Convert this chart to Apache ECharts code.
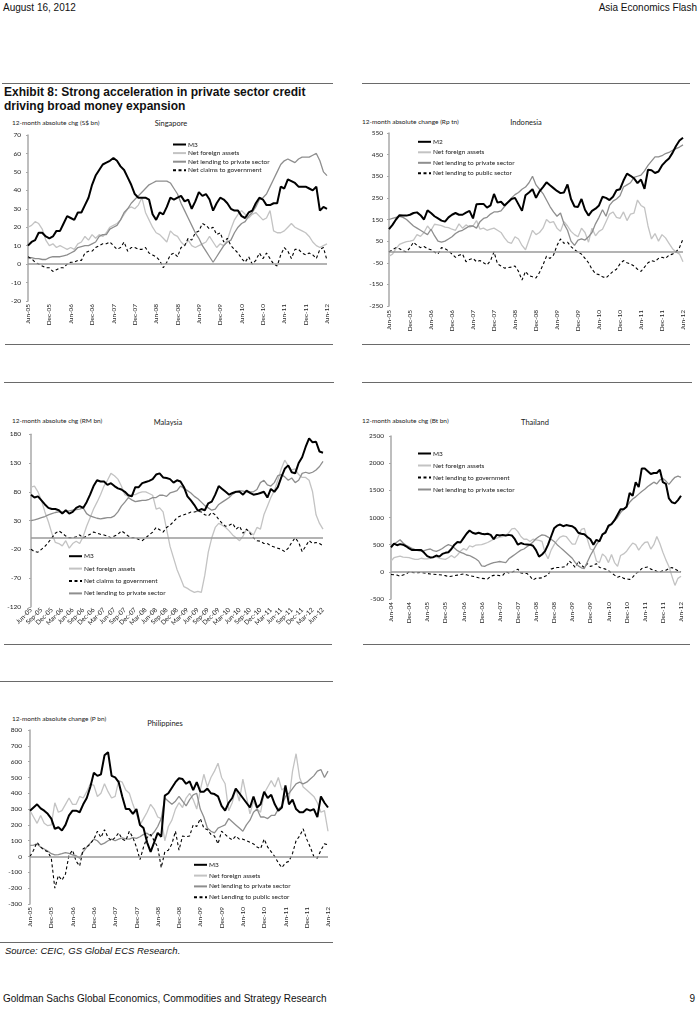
<!DOCTYPE html>
<html><head><meta charset="utf-8">
<script src="https://cdn.jsdelivr.net/npm/echarts@6.0.0/dist/echarts.min.js"></script>
<style>
html,body{margin:0;padding:0;background:#fff;}
#page{position:relative;width:700px;height:1009px;overflow:hidden;font-family:"Liberation Sans",Arial,sans-serif;color:#111;}
.t{position:absolute;white-space:nowrap;}
.rule{position:absolute;height:0;border-top:1.6px solid #6a6a6a;}
.lab{position:absolute;white-space:nowrap;font-family:Lato,"Open Sans",sans-serif;font-size:6.5px;line-height:8px;color:#222;}
.ptitle{position:absolute;white-space:nowrap;font-family:Lato,"Open Sans",sans-serif;font-size:7.5px;line-height:9px;color:#222;transform:translateX(-50%);}
#chart{position:absolute;left:0;top:0;width:700px;height:1009px;}
</style></head>
<body><div id="page">
<div class="t" style="left:3px;top:2px;font-size:10px;line-height:12px;">August 16, 2012</div>
<div class="t" style="right:3px;top:2px;font-size:10px;line-height:12px;">Asia Economics Flash</div>
<div class="t" style="left:4px;top:86px;font-size:12px;line-height:13.5px;font-weight:bold;">Exhibit 8: Strong acceleration in private sector credit<br>driving broad money expansion</div>

<div class="rule" style="left:2px;width:331px;top:83px;"></div>
<div class="rule" style="left:362px;width:328px;top:83px;"></div>
<div class="rule" style="left:5px;width:328px;top:344px;"></div>
<div class="rule" style="left:362px;width:328px;top:344px;"></div>
<div class="rule" style="left:4px;width:330px;top:382px;"></div>
<div class="rule" style="left:362px;width:330px;top:382px;"></div>
<div class="rule" style="left:4px;width:328px;top:644px;"></div>
<div class="rule" style="left:363px;width:327px;top:644px;"></div>
<div class="rule" style="left:0px;width:333px;top:681px;"></div>
<div class="rule" style="left:0px;width:333px;top:942px;"></div>

<div class="lab" style="left:12px;top:119px;">12-month absolute chg (S$ bn)</div>
<div class="ptitle" style="left:171px;top:119px;">Singapore</div>
<div class="lab" style="left:362px;top:118px;">12-month absolute change (Rp tn)</div>
<div class="ptitle" style="left:526px;top:118px;">Indonesia</div>
<div class="lab" style="left:12px;top:417px;">12-month absolute chg (RM bn)</div>
<div class="ptitle" style="left:168px;top:418px;">Malaysia</div>
<div class="lab" style="left:362px;top:417px;">12-month absolute chg (Bt bn)</div>
<div class="ptitle" style="left:535px;top:418px;">Thailand</div>
<div class="lab" style="left:12px;top:715px;">12-month absolute change (P bn)</div>
<div class="ptitle" style="left:165px;top:719px;">Philippines</div>

<div class="t" style="left:5px;top:945px;font-size:9.5px;line-height:12px;font-style:italic;">Source: CEIC, GS Global ECS Research.</div>
<div class="t" style="left:3px;top:993px;font-size:10px;line-height:12px;">Goldman Sachs Global Economics, Commodities and Strategy Research</div>
<div class="t" style="right:5px;top:993px;font-size:10px;line-height:12px;">9</div>
<div id="chart"></div>
</div>
<script>
// ---------- categories ----------
const MONTHS = ['Jan','Feb','Mar','Apr','May','Jun','Jul','Aug','Sep','Oct','Nov','Dec'];
function monthLabels(y0, m0, n){const out=[];let y=y0,m=m0;for(let i=0;i<n;i++){out.push(MONTHS[m]+'-'+String(y%100).padStart(2,'0'));m++;if(m>11){m=0;y++;}}return out;}
const cats05 = monthLabels(2005, 5, 85);   // Jun-05 .. Jun-12
const cats04 = monthLabels(2004, 5, 97);   // Jun-04 .. Jun-12

// ---------- Singapore (S$ bn) ----------
const sgM3 = [10,12,13,17,17,15,14,15,18,18, 22,26,25,24,28,28,32,36,43,48, 51,54,55,56,57.5,56,53,51,47,43,
  38,36,36,36,35,27,24,28,27,31, 36,35,36,37,34,35,30,34,39,37, 38,35,29,33,36,35,33,30,29,29,
  26,25,28,29,33,36,35,32,32,33, 33,42,41,46,45,44,42,42,42,41, 40,42,29,31,30];
const sgNFA = [20,21,23,22,19,13,10,11,9,10, 9,8,9,8,11,12,15,13,16,14, 16,15,17,20,21,22,24,27,30,31,
  30,32,36,28,24,20,17,16,14,12, 18,16,15,12,10,13,10,9,10,11, 12,15,12,9,11,10,13,19,24,27,
  29,27,25,27,28,26,24,25,29,18, 17,17,18,20,22,20,19,18,17,15, 12,10,9,10,11];
const sgPriv = [3,3.5,3,3,2.5,2.5,3.5,4,4,4, 4.5,5,6,7,9,9.5,10,10,11,12, 15,16,16,19,20,21,24,28,30,33,
  35,37,39,41,43,44,45,45,45,45, 44,41,38,33,29,25,21,17,14,10, 7,4,1,4,7,10,12,13,17,20,
  22,23,26,28,31,35,36,38,42,46, 50,54,56,57,56,55,57,58,58,58, 59,60,56,50,48];
const sgGov = [4,3,1,0,-1,-2,-2,-4,-3,-2, -2,0,1,1,2,2,6,7,7,9, 10,11,11,12,10,8,9,12,7,9,
  9,8,8,9,6,5,4,2,-2,1, 5,6,4,9,10,14,13,17,18,22, 21,19,20,16,17,12,14,10,8,6,
  3,1,4,0,2,6,3,6,3,0, -1,5,9,7,3,8,8,6,5,6, 5,3,8,9,2];

// ---------- Indonesia (Rp tn) ----------
const idM2 = [105,125,150,170,168,168,172,180,183,170, 150,192,180,165,155,145,140,160,172,180,
  172,172,182,190,155,220,222,222,205,215, 268,228,232,215,230,245,250,220,190,262,
  275,290,250,280,300,322,308,295,282,272, 275,312,245,210,208,245,195,168,190,200,
  215,255,250,240,255,285,290,330,362,352, 340,318,335,292,380,378,365,372,400,418, 432,458,490,515,528];
const idNFA = [-20,-10,15,35,42,48,50,55,80,72, 90,120,100,128,125,122,115,112,105,100,
  130,110,125,115,120,145,105,110,100,105, 110,100,90,65,45,40,70,60,30,10,
  55,100,80,90,110,150,135,140,110,95, 140,120,95,80,70,110,90,45,110,75,
  95,105,140,175,185,160,155,185,145,175, 180,240,215,205,120,60,85,50,80,65, 40,15,0,-10,-45];
const idPriv = [150,155,160,165,160,150,135,120,110,100, 90,80,105,75,50,45,50,60,70,85,
  95,100,110,120,120,110,140,155,160,175, 185,185,190,210,230,250,265,275,290,300,
  320,350,310,290,270,240,210,185,165,180, 130,100,50,30,55,60,55,70,90,130,
  160,195,165,215,235,245,260,300,310,320, 345,350,355,375,400,420,440,440,445,455, 460,470,478,485,495];
const idPub = [0,10,20,15,5,0,20,45,30,20, 25,15,10,0,-10,20,15,5,-10,-25,
  -15,-10,-45,-35,-30,-45,-40,-50,-60,-40, 0,-55,-65,-75,-72,-70,-65,-90,-130,-90,
  -110,-115,-120,-95,-60,-20,-30,-15,30,60, 40,45,25,10,0,-10,-30,-50,-80,-100,
  -105,-115,-120,-105,-90,-80,-55,-40,-50,-55, -65,-80,-90,-70,-50,-40,-45,-30,-25,-30, -15,-10,0,20,60];

// ---------- Malaysia (RM bn) ----------
const myM3 = [75,70,72,65,58,52,50,50,48,42, 48,42,45,52,55,52,62,75,90,100,
  98,98,92,95,90,86,84,80,74,72, 88,88,95,97,99,102,110,112,105,104,
  102,96,100,98,88,72,65,57,47,50, 48,60,63,75,90,85,80,75,78,80,
  80,75,82,78,75,76,78,80,70,85, 80,88,105,120,126,114,112,130,140,158, 173,166,167,150,148];
const myNFA = [88,90,80,65,45,28,8,-8,-10,-14, -5,-18,-10,-6,-10,2,20,35,50,62,
  75,90,100,112,108,102,90,75,72,75, 75,78,80,80,77,74,50,52,45,15,
  -15,-35,-55,-70,-85,-88,-92,-95,-93,-95, -65,-25,0,18,25,22,18,12,5,0,
  -5,3,15,10,5,18,15,40,55,70, 82,100,120,135,125,118,120,110,105,105, 100,80,40,25,15];
const myGov = [-20,-24,-25,-20,-15,-8,0,8,12,8, 3,0,0,2,5,0,3,6,10,8,
  6,5,3,0,3,6,12,8,3,0, 0,-3,-5,0,5,10,18,14,10,18,
  22,28,35,38,40,42,45,45,46,45, 40,38,44,40,32,25,20,22,25,15,
  20,8,15,8,0,-5,-6,-10,-10,-14, -16,-18,-20,-24,-18,-8,0,-8,-24,-15, -5,-10,-8,-10,-14];
const myPriv = [30,31,33,35,37,40,42,44,45,45, 46,47,48,49,50,52,42,38,36,34,
  33,34,35,35,38,45,55,62,70,66, 63,64,65,65,67,70,70,74,74,72,
  78,80,82,90,86,82,78,72,68,62, 56,52,48,50,58,62,66,70,76,80,
  82,81,80,80,80,84,96,100,92,90, 96,108,110,106,100,104,96,100,112,114, 112,114,118,124,133];

// ---------- Thailand (Bt bn) ----------
const thM3 = [450,520,490,510,500,470,430,400,400,400, 400,350,290,265,270,300,280,330,350,360,
  420,500,550,540,620,700,760,720,700,720, 700,690,700,680,600,680,670,680,670,680,
  670,600,500,530,510,505,500,480,400,280, 320,380,500,650,800,850,870,840,860,850,
  840,800,720,700,690,640,600,500,590,560, 690,720,850,880,950,1050,1150,1150,1200,1450,
  1400,1650,1560,1900,1900,1850,1800,1820,1820,1880, 1650,1620,1350,1280,1260,1320,1400];
const thNFA = [200,260,275,290,270,265,260,245,230,230, 250,240,240,250,270,270,250,240,230,260,
  300,260,310,380,430,400,480,460,490,495, 500,520,540,570,600,620,640,650,670,720,
  790,800,740,650,600,600,560,600,590,580, 560,350,240,400,500,580,640,660,650,580,
  510,510,650,780,800,600,420,400,200,170, 330,280,170,320,170,100,300,330,380,460,
  530,500,400,480,540,550,420,500,650,520, 360,220,100,-80,-250,-120,-80];
const thGov = [-50,-55,-60,-80,-60,-40,0,-10,-20,-15, -10,-20,-30,-40,-45,-50,-55,-60,-70,-90,
  -80,-70,-60,-50,-40,-55,-70,-80,-95,-110, -120,-125,-130,-80,-65,-60,-70,-65,0,-20,
  -10,20,50,-20,-25,-30,-80,-150,-120,-115, -110,-80,-60,50,70,80,80,90,100,200,
  150,80,200,120,80,150,100,120,150,80, 70,50,20,-20,-60,-100,-80,-120,-130,-140,
  -100,-30,0,60,80,90,50,30,10,0, 20,30,60,80,50,20,0];
const thPriv = [480,510,550,590,530,490,460,430,410,390, 380,390,410,420,390,375,400,430,470,500,
  480,440,390,360,340,310,300,270,240,200, 110,100,130,150,170,180,190,180,170,240,
  280,320,360,400,420,460,500,550,610,650, 680,670,640,600,560,500,450,400,350,300,
  250,170,110,75,60,180,300,400,500,580, 680,750,820,880,940,1000,1090,1150,1200,1280,
  1340,1380,1430,1480,1520,1570,1610,1650,1620,1690, 1720,1670,1610,1680,1740,1760,1740];

// ---------- Philippines (P bn) ----------
const phM3 = [290,310,330,305,290,270,240,175,185,165, 200,260,290,290,280,330,370,440,530,510,
  520,640,660,510,500,470,380,300,300,270, 300,200,180,90,30,90,150,125,385,400,
  435,470,495,490,460,475,420,470,410,410, 430,400,395,380,320,290,340,370,430,400,
  370,340,310,380,310,330,410,370,390,330, 290,310,450,330,360,300,280,280,300,290, 300,250,380,340,310];
const phNFA = [290,250,210,260,210,195,200,340,280,290, 330,370,330,330,380,370,410,460,450,380,
  400,460,410,370,380,480,470,420,400,330, 270,200,240,280,330,300,250,240,100,190,
  230,300,340,310,370,400,360,300,420,520, 440,500,540,590,500,460,290,340,430,350,
  490,380,270,350,300,280,400,440,480,440, 500,420,440,360,540,650,500,440,420,400, 380,340,280,290,160];
const phPriv = [70,72,80,60,48,35,18,10,12,18, 25,20,10,5,-10,30,60,85,110,100,
  75,85,100,110,100,110,118,112,110,120, 115,125,140,148,130,155,190,240,370,350,
  330,350,380,350,320,360,390,400,300,250, 180,160,150,180,190,200,240,220,200,180,
  160,200,230,280,300,250,250,240,260,260, 300,320,380,400,430,460,470,460,470,490, 510,540,550,500,540];
const phPub = [0,40,90,60,40,30,-10,-200,-120,-150, -110,10,40,-30,-60,50,60,80,110,160,
  120,170,120,100,120,150,110,100,160,120, 60,-20,60,120,140,100,60,-70,30,40,
  80,160,40,130,125,130,200,190,240,180, 170,140,130,80,160,140,120,105,130,110,
  110,100,90,80,60,50,110,60,30,0, -40,-70,-40,-30,20,100,130,175,110,60, 0,-10,40,80,75];

// ---------- chart ----------
const FONT = 'Lato, "Open Sans", sans-serif';
const STY = {
  m3:   {color:'#000000', width:2},
  nfa:  {color:'#c3c3c3', width:1.3},
  priv: {color:'#8e8e8e', width:1.3},
  dash: {color:'#000000', width:1.1, type:[3,2.5]}
};
const panels = [
  {cats:cats05, grid:{left:28,top:135,width:299,height:166}, y:{min:-20,max:70,interval:10,margin:7},
   xl:{interval:5,rotate:90,margin:3},
   legend:{left:172,top:141,gap:1.6},
   series:[['M3',sgM3,'m3'],['Net foreign assets',sgNFA,'nfa'],['Net lending to private sector',sgPriv,'priv'],['Net claims to government',sgGov,'dash']]},
  {cats:cats05, grid:{left:389,top:133,width:294,height:173}, y:{min:-250,max:550,interval:100,margin:6},
   xl:{interval:5,rotate:90,margin:4},
   legend:{left:417,top:138.3,gap:3.5},
   series:[['M2',idM2,'m3'],['Net foreign assets',idNFA,'nfa'],['Net lending to private sector',idPriv,'priv'],['Net lending to public sector',idPub,'dash']]},
  {cats:cats05, grid:{left:31,top:434.3,width:292,height:172.5}, y:{min:-120,max:180,interval:50,margin:10},
   xl:{interval:2,rotate:45,margin:2},
   legend:{left:68,top:552.7,gap:5.4},
   series:[['M3',myM3,'m3'],['Net foreign assets',myNFA,'nfa'],['Net claims to government',myGov,'dash'],['Net lending to private sector',myPriv,'priv']]},
  {cats:cats04, grid:{left:391,top:436,width:290,height:163}, y:{min:-500,max:2500,interval:500,margin:7},
   xl:{interval:5,rotate:90,margin:3},
   legend:{left:417,top:450,gap:5},
   series:[['M3',thM3,'m3'],['Net foreign assets',thNFA,'nfa'],['Net lending to government',thGov,'dash'],['Net lending to private sector',thPriv,'priv']]},
  {cats:cats05, grid:{left:30,top:730,width:298,height:174}, y:{min:-300,max:800,interval:100,margin:8},
   xl:{interval:5,rotate:90,margin:3},
   legend:{left:193,top:861.3,gap:3.8},
   series:[['M3',phM3,'m3'],['Net foreign assets',phNFA,'nfa'],['Net lending to private sector',phPriv,'priv'],['Net Lending to public sector',phPub,'dash']]}
];

const option = {
  animation:false,
  backgroundColor:'transparent',
  textStyle:{fontFamily:FONT},
  grid:[], xAxis:[], yAxis:[], series:[], legend:[]
};
panels.forEach((p,i)=>{
  option.grid.push(Object.assign({containLabel:false, outerBoundsMode:'none'}, p.grid));
  option.xAxis.push({type:'category', gridIndex:i, data:p.cats, boundaryGap:false,
    axisLine:{show:false}, axisTick:{show:false}, splitLine:{show:false},
    axisLabel:{interval:p.xl.interval, rotate:p.xl.rotate, margin:p.xl.margin, fontSize:6.5, color:'#222', fontFamily:FONT, hideOverlap:false}});
  option.yAxis.push({type:'value', gridIndex:i, min:p.y.min, max:p.y.max, interval:p.y.interval,
    axisLine:{show:true, lineStyle:{color:'#a8a8a8', width:1.5}},
    axisTick:{show:true, length:2, lineStyle:{color:'#a8a8a8', width:1}},
    splitLine:{show:false},
    axisLabel:{margin:p.y.margin, fontSize:6.5, color:'#222', fontFamily:FONT, formatter:v=>String(v)}});
  p.series.forEach((s,j)=>{
    const st = STY[s[2]];
    const ser = {type:'line', name:s[0], data:s[1], xAxisIndex:i, yAxisIndex:i,
      showSymbol:false, symbol:'none', color:st.color, itemStyle:{color:st.color},
      lineStyle:Object.assign({}, st), emphasis:{disabled:true}, z: s[2]==='m3'?4:3};
    if(j===0){
      ser.markLine = {silent:true, symbol:['none','none'], label:{show:false}, animation:false,
        lineStyle:{color:'#9a9a9a', width:1.5, type:'solid'}, emphasis:{disabled:true}, data:[{yAxis:0}]};
    }
    option.series.push(ser);
  });
  option.legend.push({orient:'vertical', left:p.legend.left, top:p.legend.top, padding:0,
    itemGap:p.legend.gap, itemWidth:13, itemHeight:2, selectedMode:false,
    itemStyle:{opacity:0},
    data:p.series.map(s=>s[0]),
    textStyle:{fontSize:6.5, color:'#222', fontFamily:FONT, padding:[0,0,0,-3]}});
});
const chart = echarts.init(document.getElementById('chart'), null, {renderer:'canvas'});
chart.setOption(option);
</script>
</body></html>
